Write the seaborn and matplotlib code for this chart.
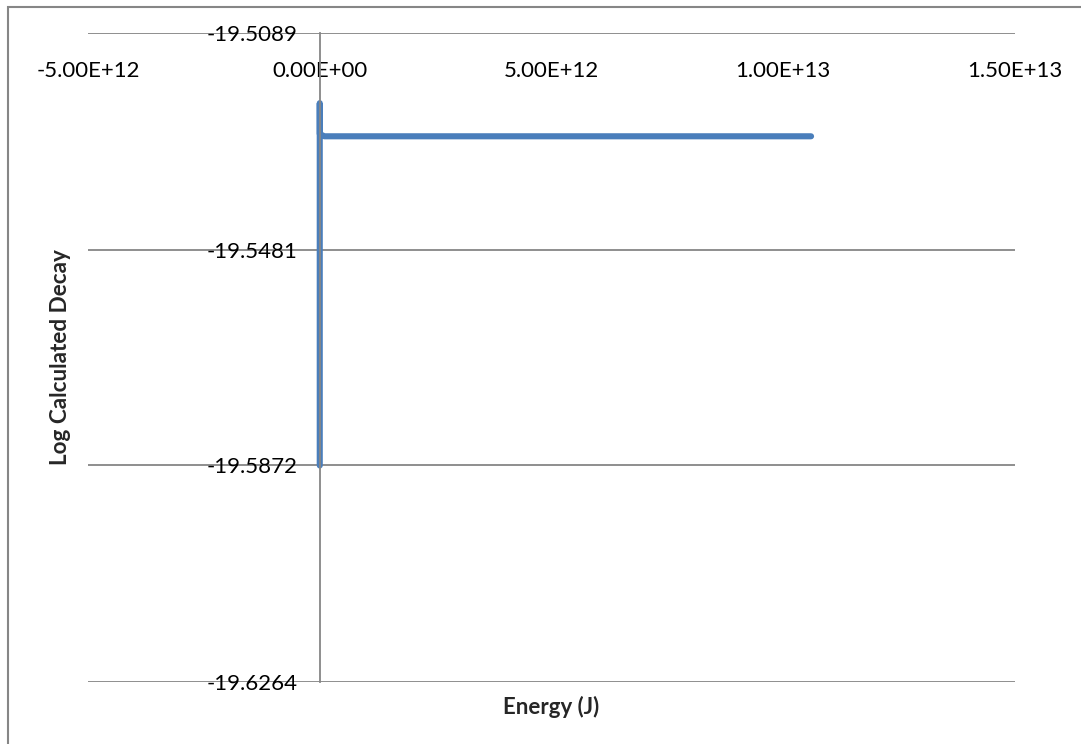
import matplotlib
matplotlib.use("Agg")
import matplotlib.pyplot as plt
import matplotlib.patches as mpatches
import seaborn as sns
import pandas as pd

# values
energy = [0.0, 0.0, 1.0e9, 1.0e11, 1.06e13]
log_decay = [-19.5872, -19.5216, -19.5272, -19.5276, -19.5276]

y_ticks = [-19.5089, -19.5481, -19.5872, -19.6264]
x_ticks = [-5.0e12, 0.0, 5.0e12, 1.0e13, 1.5e13]

df = pd.DataFrame({"energy": energy, "log_decay": log_decay})

sns.set_style("white")
plt.rcParams["font.family"] = ["Lato", "DejaVu Sans"]

fig = plt.figure(figsize=(10.81, 7.44), dpi=100)
ax = fig.add_axes([88 / 1081, 1 - 682 / 744, 927 / 1081, 649 / 744])

sns.lineplot(data=df, x="energy", y="log_decay", sort=False, estimator=None,
             color="#4A7EBB", linewidth=4.4, ax=ax)

ax.set_xlim(x_ticks[0], x_ticks[-1])
ax.set_ylim(y_ticks[-1], y_ticks[0])
ax.set_xticks(x_ticks)
ax.set_yticks(y_ticks)
ax.set_xticklabels([f"{v:.2E}" for v in x_ticks])
ax.set_yticklabels([f"{v:.4f}" for v in y_ticks])

# horizontal gridlines only
ax.yaxis.grid(True, color="#868686", linewidth=1.3)
ax.xaxis.grid(False)
ax.set_axisbelow(True)

# vertical axis sits at x = 0, horizontal axis crosses at the top value
for s in ["top", "right"]:
    ax.spines[s].set_visible(False)
ax.spines["left"].set_position(("data", 0))
ax.spines["left"].set_color("#868686")
ax.spines["left"].set_linewidth(1.3)
ax.spines["bottom"].set_position(("data", y_ticks[0]))
ax.spines["bottom"].set_visible(False)
ax.tick_params(axis="both", length=0, labelsize=16, colors="black")
ax.tick_params(axis="x", pad=20)
ax.tick_params(axis="y", pad=16)

ax.set_xlabel("Energy (J)", fontsize=16, fontweight="bold")
ax.set_ylabel("Log Calculated Decay", fontsize=16, fontweight="bold")
ax.xaxis.set_label_coords(0.5, -0.038)
ax.yaxis.set_label_coords(-0.030, 0.5)
ax.xaxis.label.set_va("center")
ax.yaxis.label.set_va("center")

# y title in the reference is about 216 px long, scale the font to fit
renderer = fig.canvas.get_renderer()
h = ax.yaxis.label.get_window_extent(renderer).height
ax.yaxis.label.set_fontsize(16 * 216 / h)

# chart area border (only top and left edges fall inside the image)
fig.patches.append(mpatches.Rectangle((8 / 1081, -0.1), 1.2, 1 - 7 / 744 + 0.1,
                                      transform=fig.transFigure, fill=False,
                                      edgecolor="#868686", linewidth=1.5))

fig.savefig("out.png", dpi=100)
